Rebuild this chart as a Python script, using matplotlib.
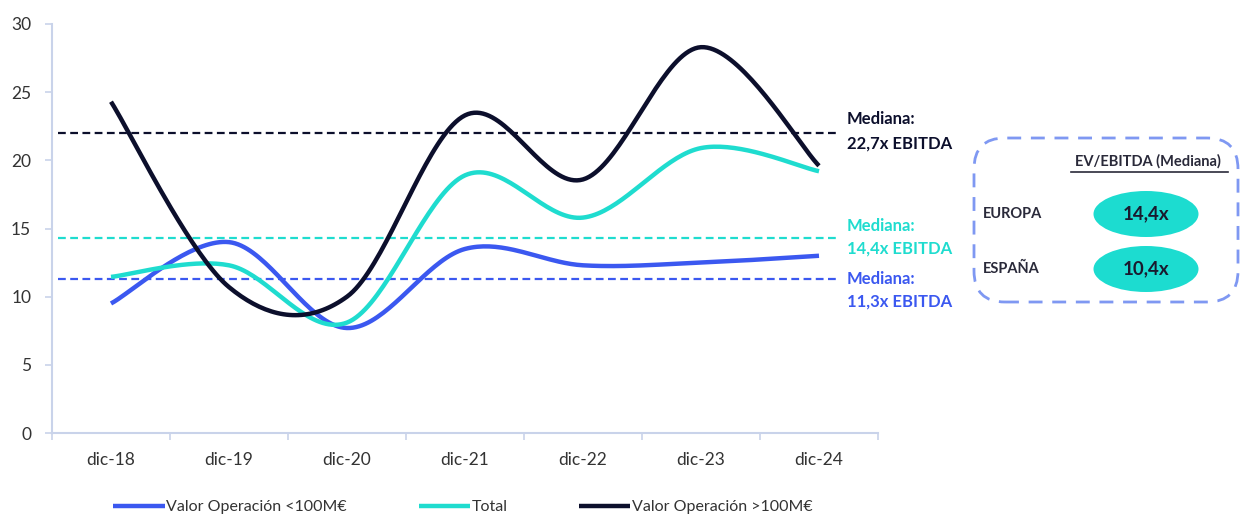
import numpy as np
import matplotlib.pyplot as plt
from matplotlib.patches import FancyBboxPatch, Ellipse

# datos
periodos = ['dic-18', 'dic-19', 'dic-20', 'dic-21', 'dic-22', 'dic-23', 'dic-24']
menor_100 = [9.5, 14.0, 7.7, 13.5, 12.3, 12.5, 13.0]
total = [11.45, 12.3, 8.1, 18.9, 15.8, 20.9, 19.2]
mayor_100 = [24.3, 10.7, 10.0, 23.3, 18.6, 28.3, 19.6]

medianas = [22.0, 14.3, 11.3]
etiquetas_mediana = ['22,7x EBITDA', '14,4x EBITDA', '11,3x EBITDA']
tabla_filas = ['EUROPA', 'ESPAÑA']
tabla_valores = ['14,4x', '10,4x']

AZUL = '#3b58f0'
CIAN = '#1fdccf'
NEGRO = '#0c0f2c'
GRIS = '#c9d3ea'

plt.rcParams['font.family'] = ['Lato', 'DejaVu Sans']


def suavizar(y, n=40):
    # curva tipo Excel (Catmull-Rom) entre los puntos
    y = np.asarray(y, dtype=float)
    x = np.arange(len(y), dtype=float)
    p = np.concatenate([[y[0]], y, [y[-1]]])
    px = np.concatenate([[x[0]], x, [x[-1]]])
    xs, ys = [], []
    for i in range(len(y) - 1):
        t = np.linspace(0, 1, n)
        for arr, out in ((px, xs), (p, ys)):
            p0, p1, p2, p3 = arr[i], arr[i + 1], arr[i + 2], arr[i + 3]
            c1 = p1 + (p2 - p0) / 6
            c2 = p2 - (p3 - p1) / 6
            out.append((1 - t) ** 3 * p1 + 3 * (1 - t) ** 2 * t * c1
                       + 3 * (1 - t) * t ** 2 * c2 + t ** 3 * p2)
    return np.concatenate(xs), np.concatenate(ys)


W, H = 1241, 516
fig = plt.figure(figsize=(W / 100, H / 100), dpi=100)
ax = fig.add_axes([52 / W, 1 - 433 / H, (878 - 52) / W, (433 - 24) / H])


def fx(px):
    return px / W


def fy(py):
    return 1 - py / H


# medianas
for m, c in zip(medianas, [NEGRO, CIAN, AZUL]):
    ax.plot([-0.45, 6.15], [m, m], color=c, lw=1.6, ls=(0, (3.5, 2)))

for serie, c, lab in [(menor_100, AZUL, 'Valor Operación <100M€'),
                      (total, CIAN, 'Total'),
                      (mayor_100, NEGRO, 'Valor Operación >100M€')]:
    xs, ys = suavizar(serie)
    ax.plot(xs, ys, color=c, lw=3.2, solid_capstyle='butt', label=lab)

ax.set_xlim(-0.5, 6.5)
ax.set_ylim(0, 30)
ax.set_yticks(range(0, 31, 5))
ax.set_xticks(range(len(periodos)))
ax.set_xticklabels(periodos)
ax.set_xticks(np.arange(-0.5, 6.6, 1), minor=True)
ax.tick_params(axis='x', which='major', length=0, pad=14, labelsize=12.5, labelcolor='#333333')
ax.tick_params(axis='x', which='minor', length=5, color=GRIS, width=1.2)
ax.tick_params(axis='y', length=5, color=GRIS, width=1.2, labelsize=12.5, labelcolor='#333333', pad=10)
for s in ['top', 'right']:
    ax.spines[s].set_visible(False)
for s in ['left', 'bottom']:
    ax.spines[s].set_color(GRIS)
    ax.spines[s].set_linewidth(1.5)

leg = fig.legend(loc='center', bbox_to_anchor=(fx(463), fy(507)), ncol=3, frameon=False,
                 fontsize=11.5, handlelength=3.2, handletextpad=0.1, columnspacing=4.5)
for t in leg.get_texts():
    t.set_color('#333333')

# etiquetas de medianas
for (y1, y2), c, lab in zip([(119, 144), (226, 249), (279, 302)], [NEGRO, CIAN, AZUL], etiquetas_mediana):
    fig.text(fx(847), fy(y1), 'Mediana:', color=c, fontsize=12, fontweight='bold', va='center')
    fig.text(fx(847), fy(y2), lab, color=c, fontsize=12, fontweight='bold', va='center')

# recuadro derecho
caja = FancyBboxPatch((fx(974), fy(302)), fx(1238 - 974), fy(138) - fy(302),
                      boxstyle='round,pad=0,rounding_size=0.025', transform=fig.transFigure,
                      fill=False, edgecolor='#7f98f2', lw=2, ls=(0, (5, 3.5)), mutation_aspect=W / H)
fig.add_artist(caja)
fig.text(fx(1148), fy(161), 'EV/EBITDA (Mediana)', ha='center', va='center', fontsize=10.5,
         fontweight='bold', color='#2a2a3a')
fig.add_artist(plt.Line2D([fx(1071), fx(1228)], [fy(172), fy(172)], transform=fig.transFigure,
                          color='#2a2a3a', lw=1.2))
for (yc, fila, val) in zip([214, 269], tabla_filas, tabla_valores):
    fig.text(fx(983), fy(yc), fila, ha='left', va='center', fontsize=10.5, fontweight='bold',
             color='#2a2a3a')
    e = Ellipse((fx(1146), fy(yc)), fx(105), 46 / H, transform=fig.transFigure,
                facecolor='#1cdcd0', edgecolor='none')
    fig.add_artist(e)
    fig.text(fx(1146), fy(yc), val, ha='center', va='center', fontsize=13.5, fontweight='bold',
             color='#1a1a2e')

fig.savefig('out.png', dpi=100)
